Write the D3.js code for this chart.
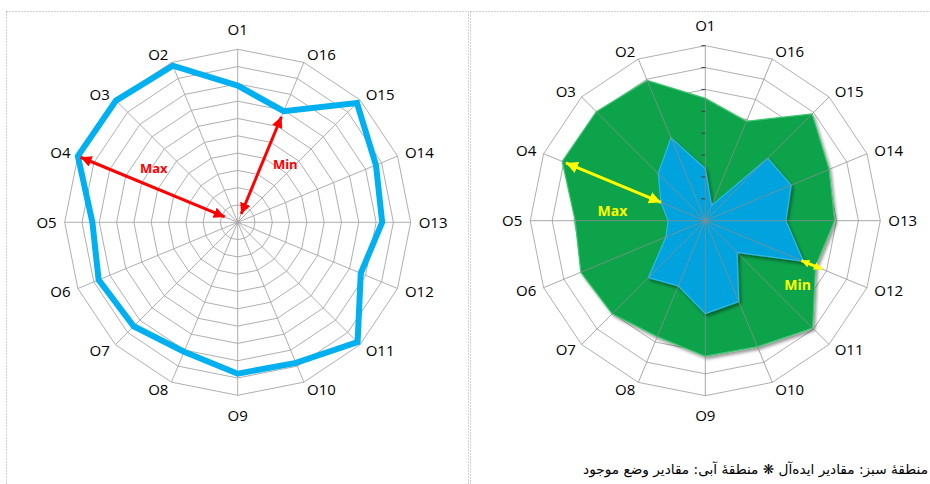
<!DOCTYPE html>
<html>
<head>
<meta charset="utf-8">
<script src="https://cdn.jsdelivr.net/npm/d3@7"></script>
<style>
  html, body { margin: 0; padding: 0; background: #fff; }
  svg { display: block; }
</style>
</head>
<body>
<svg width="930" height="484"></svg>
<script>
// axis names, counter-clockwise from the top
var axes = ['O1', 'O2', 'O3', 'O4', 'O5', 'O6', 'O7', 'O8',
            'O9', 'O10', 'O11', 'O12', 'O13', 'O14', 'O15', 'O16'];
// ideal values (green area on the right, blue line on the left)
var ideal = [7.9, 9.8, 9.95, 10, 8.4, 8.7, 8.5, 8.1,
             8.75, 8.8, 9.8, 7.7, 8.35, 8.65, 9.75, 6.95];
// current state (blue area on the right)
var current = [3.35, 5.8, 4.3, 3.1, 2.4, 2.75, 5.2, 4.55,
               6.0, 5.65, 2.9, 6.85, 5.2, 6.0, 5.7, 1.05];
var leftMax = 10, leftRings = 10;
var rightMax = 11.3, rightRings = 8;
var legendText = 'منطقهٔ سبز: مقادیر ایده‌آل ❋ منطقهٔ آبی: مقادیر وضع موجود';

(function (d3) {
  var svg = d3.select('svg');
  var n = axes.length;
  var angle = function (i) { return -i * 2 * Math.PI / n; };

  var defs = svg.append('defs');
  defs.append('filter').attr('id', 'shadow')
      .attr('x', '-10%').attr('y', '-10%').attr('width', '120%').attr('height', '120%')
    .append('feDropShadow')
      .attr('dx', 2).attr('dy', 2.5).attr('stdDeviation', 1.6)
      .attr('flood-color', '#000').attr('flood-opacity', 0.4);

  function marker(id, color, size) {
    defs.append('marker')
        .attr('id', id)
        .attr('viewBox', '0 0 10 10')
        .attr('refX', 10).attr('refY', 5)
        .attr('markerUnits', 'userSpaceOnUse')
        .attr('markerWidth', size).attr('markerHeight', size)
        .attr('orient', 'auto-start-reverse')
      .append('path')
        .attr('d', 'M0,0 L10,5 L0,10 Z')
        .attr('fill', color);
  }
  marker('head-red', '#ff0000', 11);
  marker('head-yellow', '#ffff00', 12);
  marker('head-yellow-s', '#ffff00', 8);

  // dotted panel frames
  svg.append('rect')
     .attr('x', 6.5).attr('y', 11.5).attr('width', 462).attr('height', 500)
     .attr('fill', 'none').attr('stroke', '#a0a0a0').attr('stroke-dasharray', '1,2');
  svg.append('rect')
     .attr('x', 470.5).attr('y', 11.5).attr('width', 500).attr('height', 500)
     .attr('fill', 'none').attr('stroke', '#a0a0a0').attr('stroke-dasharray', '1,2');

  function pt(g, r, i) {
    var a = angle(i);
    return [g.cx + r * Math.sin(a), g.cy - r * Math.cos(a)];
  }

  function radar(cx, cy, R, max, rings) {
    var g = svg.append('g').attr('transform', 'translate(' + cx + ',' + cy + ')');
    g.cx = cx; g.cy = cy;
    g.r = d3.scaleLinear().domain([0, max]).range([0, R]);
    g.ringValues = d3.range(1, rings + 1).map(function (k) { return k * max / rings; });
    g.line = d3.lineRadial()
        .angle(function (d, i) { return angle(i); })
        .radius(function (d) { return g.r(d); })
        .curve(d3.curveLinearClosed);
    g.rings = function () {
      g.append('g').selectAll('path')
         .data(g.ringValues)
        .enter().append('path')
         .attr('d', function (v) { return g.line(axes.map(function () { return v; })); })
         .attr('fill', 'none')
         .attr('stroke', '#a6a6a6')
         .attr('stroke-width', 0.9);
    };
    g.spokes = function (color) {
      g.append('g').selectAll('line')
         .data(axes)
        .enter().append('line')
         .attr('x1', 0).attr('y1', 0)
         .attr('x2', function (d, i) { return R * Math.sin(angle(i)); })
         .attr('y2', function (d, i) { return -R * Math.cos(angle(i)); })
         .attr('stroke', color)
         .attr('stroke-width', 0.9);
    };
    g.labels = function () {
      g.append('g').selectAll('text')
         .data(axes)
        .enter().append('text')
         .attr('x', function (d, i) { return (R + 8) * Math.sin(angle(i)); })
         .attr('y', function (d, i) {
           var c = Math.cos(angle(i));
           var y = -(R + 8) * c;
           if (Math.abs(Math.sin(angle(i))) < 0.1) y -= (c > 0 ? 12 : -12);
           return y;
         })
         .attr('dy', '0.36em')
         .attr('text-anchor', function (d, i) {
           var s = Math.sin(angle(i));
           return Math.abs(s) < 0.1 ? 'middle' : (s < 0 ? 'end' : 'start');
         })
         .attr('font-family', '"Open Sans", sans-serif')
         .attr('font-size', '15px')
         .attr('fill', '#000')
         .text(function (d) { return d; });
    };
    return g;
  }

  function arrow(g, i, r1, r2, color, head, width) {
    var a = pt(g, r1, i), b = pt(g, r2, i);
    svg.append('line')
       .attr('x1', a[0]).attr('y1', a[1])
       .attr('x2', b[0]).attr('y2', b[1])
       .attr('stroke', color)
       .attr('stroke-width', width)
       .attr('marker-start', 'url(#' + head + ')')
       .attr('marker-end', 'url(#' + head + ')');
    return [(a[0] + b[0]) / 2, (a[1] + b[1]) / 2];
  }

  function note(p, dx, dy, txt, color, size) {
    svg.append('text')
       .attr('x', p[0] + dx).attr('y', p[1] + dy)
       .attr('dy', '0.36em')
       .attr('text-anchor', 'middle')
       .attr('font-family', '"Open Sans", sans-serif')
       .attr('font-weight', 'bold')
       .attr('font-size', size)
       .attr('fill', color)
       .text(txt);
  }

  // ---- left chart: ideal values as a thick line
  var L = radar(237.7, 222.3, 173, leftMax, leftRings);
  L.rings();
  L.spokes('#a6a6a6');
  L.append('path')
   .attr('d', L.line(ideal))
   .attr('fill', 'none')
   .attr('stroke', '#00b0f0')
   .attr('stroke-width', 6)
   .attr('stroke-linejoin', 'miter');
  L.labels();

  var iMax = ideal.indexOf(d3.max(ideal)), iMin = ideal.indexOf(d3.min(ideal));
  var mMax = arrow(L, iMax, L.r(ideal[iMax]) - 3, 14, '#ff0000', 'head-red', 3);
  var mMin = arrow(L, iMin, L.r(ideal[iMin]) - 6, 9, '#ff0000', 'head-red', 3);
  note(mMax, 1, -19, 'Max', '#ff0000', '13px');
  note(mMin, 24, -1.5, 'Min', '#ff0000', '13px');

  // ---- right chart: ideal (green) vs current (blue) areas
  var Rg = radar(705.3, 220.7, 175, rightMax, rightRings);
  Rg.rings();
  Rg.append('path')
    .attr('d', Rg.line(ideal))
    .attr('fill', '#09a34b')
    .attr('stroke', '#3fc470')
    .attr('stroke-width', 1.2)
    .attr('filter', 'url(#shadow)');
  Rg.append('path')
    .attr('d', Rg.line(current))
    .attr('fill', '#02a3dd')
    .attr('stroke', '#2fb8ea')
    .attr('stroke-width', 1.2)
    .attr('filter', 'url(#shadow)');
  Rg.spokes('rgba(140,140,140,0.85)');
  // small tick marks along the first axis
  Rg.append('g').selectAll('line')
    .data(Rg.ringValues)
   .enter().append('line')
    .attr('x1', -4).attr('x2', 0)
    .attr('y1', function (v) { return -Rg.r(v); })
    .attr('y2', function (v) { return -Rg.r(v); })
    .attr('stroke', '#404040')
    .attr('stroke-width', 1);
  Rg.labels();

  // biggest and smallest gap between ideal and current
  var gaps = ideal.map(function (v, i) { return v - current[i]; });
  var gMax = gaps.indexOf(d3.max(gaps)), gMin = gaps.indexOf(d3.min(gaps));
  var yMax = arrow(Rg, gMax, Rg.r(ideal[gMax]) - 4, Rg.r(current[gMax]), '#ffff00', 'head-yellow', 3);
  var yMin = arrow(Rg, gMin, Rg.r(current[gMin]) - 2, Rg.r(ideal[gMin]) + 7, '#ffff00', 'head-yellow-s', 3);
  note(yMax, -1, 28, 'Max', '#ffff00', '14px');
  note(yMin, -14, 20, 'Min', '#ffff00', '14px');

  // legend
  svg.append('text')
     .attr('x', 928).attr('y', 474)
     .attr('text-anchor', 'end')
     .attr('font-family', '"DejaVu Sans", sans-serif')
     .attr('font-size', '13.7px')
     .attr('fill', '#000')
     .text(legendText);
})(d3);
</script>
</body>
</html>
